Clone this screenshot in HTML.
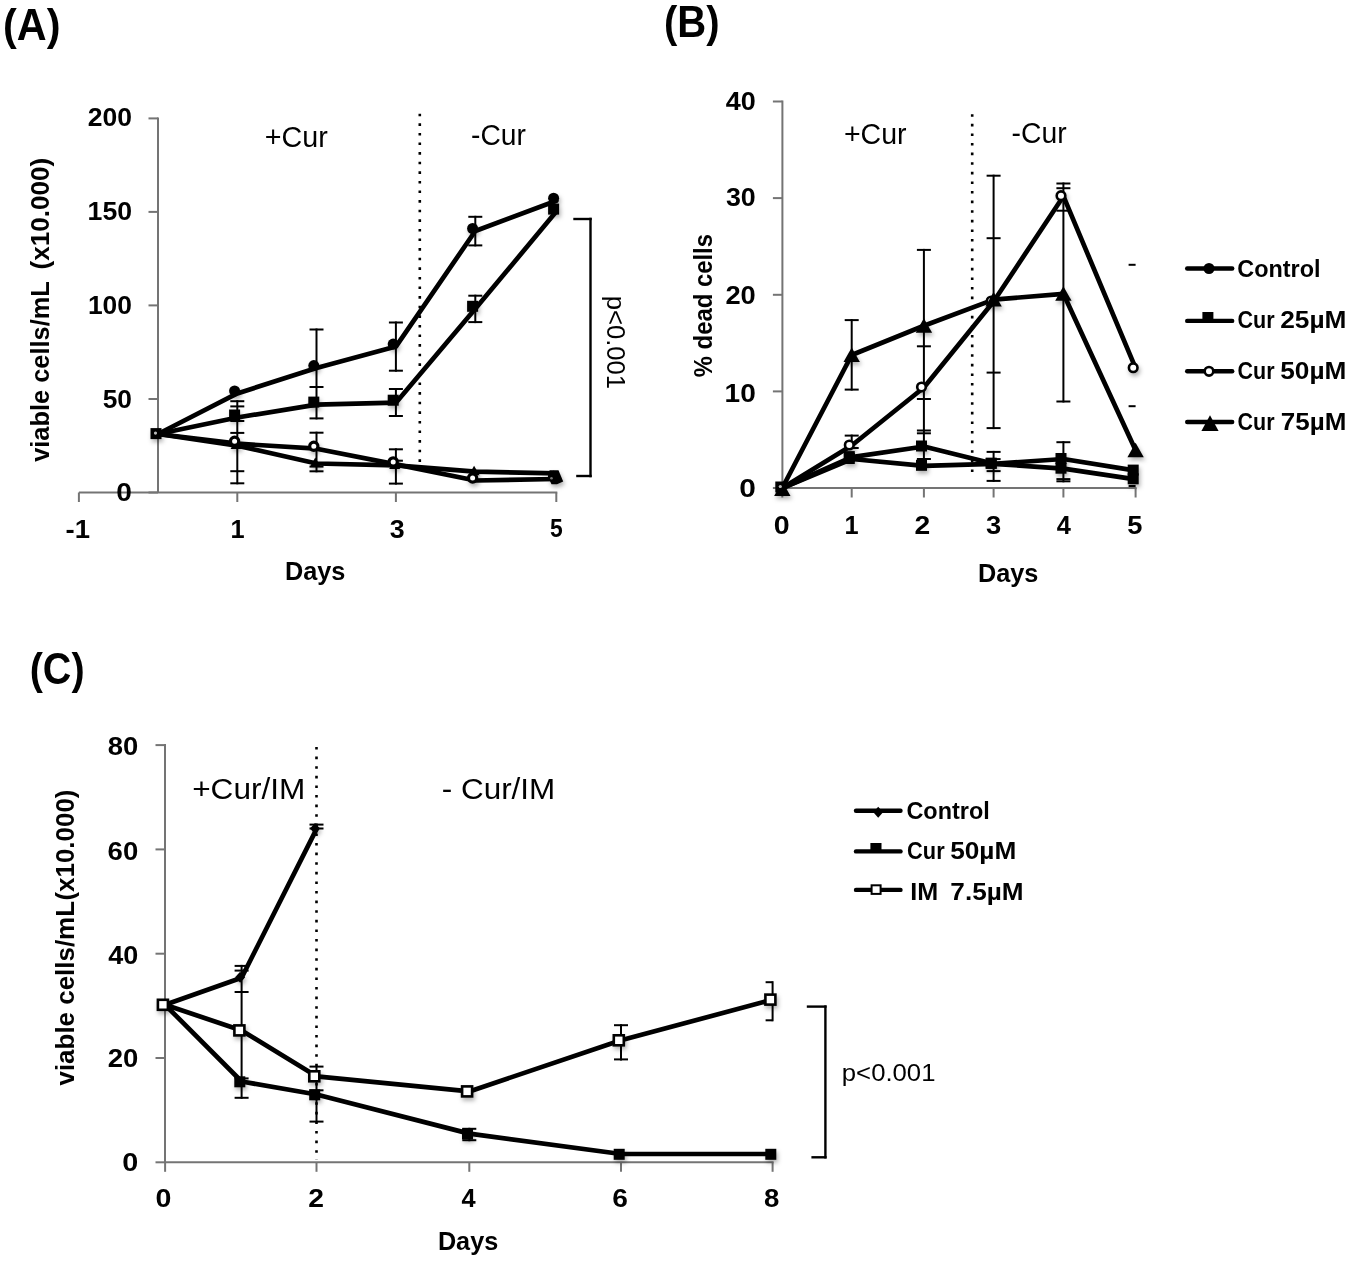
<!DOCTYPE html><html><head><meta charset="utf-8"><style>html,body{margin:0;padding:0;background:#fff;overflow:hidden}svg{display:block}text{font-family:"Liberation Sans",sans-serif;fill:#000}#texts{opacity:0.999}text{white-space:pre}</style></head><body>
<svg width="1350" height="1261" viewBox="0 0 1350 1261">
<defs><filter id="sh" x="-50%" y="-50%" width="200%" height="200%"><feDropShadow dx="1.5" dy="3" stdDeviation="2" flood-color="#000" flood-opacity="0.3"/></filter></defs>
<rect width="1350" height="1261" fill="#fff"/>
<g id="graphics">
<line x1="78.9" y1="492.5" x2="557.3" y2="492.5" stroke="#747474" stroke-width="2.0"/>
<line x1="158.0" y1="117.4" x2="158.0" y2="492.5" stroke="#747474" stroke-width="2.0"/>
<line x1="148.5" y1="492.5" x2="158.0" y2="492.5" stroke="#747474" stroke-width="2.0"/>
<line x1="148.5" y1="399.0" x2="158.0" y2="399.0" stroke="#747474" stroke-width="2.0"/>
<line x1="148.5" y1="305.4" x2="158.0" y2="305.4" stroke="#747474" stroke-width="2.0"/>
<line x1="148.5" y1="211.9" x2="158.0" y2="211.9" stroke="#747474" stroke-width="2.0"/>
<line x1="148.5" y1="118.4" x2="158.0" y2="118.4" stroke="#747474" stroke-width="2.0"/>
<line x1="78.9" y1="492.5" x2="78.9" y2="502.0" stroke="#747474" stroke-width="2.0"/>
<line x1="237.3" y1="492.5" x2="237.3" y2="502.0" stroke="#747474" stroke-width="2.0"/>
<line x1="395.9" y1="492.5" x2="395.9" y2="502.0" stroke="#747474" stroke-width="2.0"/>
<line x1="556.3" y1="492.5" x2="556.3" y2="502.0" stroke="#747474" stroke-width="2.0"/>
<line x1="419.8" y1="113.7" x2="419.8" y2="468.0" stroke="#000" stroke-width="2.6" stroke-dasharray="2.6 7"/>
<line x1="573.3" y1="219.0" x2="591.7" y2="219.0" stroke="#000" stroke-width="2.4"/>
<line x1="590.5" y1="217.8" x2="590.5" y2="477.2" stroke="#000" stroke-width="2.4"/>
<line x1="576.2" y1="476.0" x2="591.7" y2="476.0" stroke="#000" stroke-width="2.4"/>
<line x1="237.3" y1="400.2" x2="237.3" y2="484.3" stroke="#000" stroke-width="2"/>
<line x1="230.3" y1="401.2" x2="244.3" y2="401.2" stroke="#000" stroke-width="2"/>
<line x1="230.3" y1="406.4" x2="244.3" y2="406.4" stroke="#000" stroke-width="2"/>
<line x1="230.3" y1="421.0" x2="244.3" y2="421.0" stroke="#000" stroke-width="2"/>
<line x1="230.3" y1="432.9" x2="244.3" y2="432.9" stroke="#000" stroke-width="2"/>
<line x1="230.3" y1="471.2" x2="244.3" y2="471.2" stroke="#000" stroke-width="2"/>
<line x1="230.3" y1="483.3" x2="244.3" y2="483.3" stroke="#000" stroke-width="2"/>
<line x1="316.5" y1="328.5" x2="316.5" y2="419.4" stroke="#000" stroke-width="2"/>
<line x1="309.5" y1="329.5" x2="323.5" y2="329.5" stroke="#000" stroke-width="2"/>
<line x1="309.5" y1="387.0" x2="323.5" y2="387.0" stroke="#000" stroke-width="2"/>
<line x1="309.5" y1="418.4" x2="323.5" y2="418.4" stroke="#000" stroke-width="2"/>
<line x1="316.5" y1="431.7" x2="316.5" y2="472.3" stroke="#000" stroke-width="2"/>
<line x1="309.5" y1="432.7" x2="323.5" y2="432.7" stroke="#000" stroke-width="2"/>
<line x1="309.5" y1="466.6" x2="323.5" y2="466.6" stroke="#000" stroke-width="2"/>
<line x1="309.5" y1="471.3" x2="323.5" y2="471.3" stroke="#000" stroke-width="2"/>
<line x1="395.9" y1="321.5" x2="395.9" y2="371.7" stroke="#000" stroke-width="2"/>
<line x1="388.9" y1="322.5" x2="402.9" y2="322.5" stroke="#000" stroke-width="2"/>
<line x1="388.9" y1="370.7" x2="402.9" y2="370.7" stroke="#000" stroke-width="2"/>
<line x1="395.9" y1="388.0" x2="395.9" y2="417.0" stroke="#000" stroke-width="2"/>
<line x1="388.9" y1="389.0" x2="402.9" y2="389.0" stroke="#000" stroke-width="2"/>
<line x1="388.9" y1="416.0" x2="402.9" y2="416.0" stroke="#000" stroke-width="2"/>
<line x1="395.9" y1="448.3" x2="395.9" y2="484.6" stroke="#000" stroke-width="2"/>
<line x1="388.9" y1="449.3" x2="402.9" y2="449.3" stroke="#000" stroke-width="2"/>
<line x1="388.9" y1="460.7" x2="402.9" y2="460.7" stroke="#000" stroke-width="2"/>
<line x1="388.9" y1="483.6" x2="402.9" y2="483.6" stroke="#000" stroke-width="2"/>
<line x1="475.3" y1="215.8" x2="475.3" y2="246.4" stroke="#000" stroke-width="2"/>
<line x1="468.3" y1="216.8" x2="482.3" y2="216.8" stroke="#000" stroke-width="2"/>
<line x1="468.3" y1="245.4" x2="482.3" y2="245.4" stroke="#000" stroke-width="2"/>
<line x1="475.3" y1="294.7" x2="475.3" y2="323.1" stroke="#000" stroke-width="2"/>
<line x1="468.3" y1="295.7" x2="482.3" y2="295.7" stroke="#000" stroke-width="2"/>
<line x1="468.3" y1="322.1" x2="482.3" y2="322.1" stroke="#000" stroke-width="2"/>
<polyline points="158.0,434.0 237.3,445.6 316.5,463.5 395.9,465.4 475.3,471.7 556.3,473.4" fill="none" stroke="#000" stroke-width="4.7" stroke-linejoin="round" stroke-linecap="round"/>
<polyline points="158.0,434.0 237.3,443.7 316.5,448.7 395.9,464.4 475.3,480.5 556.3,479.0" fill="none" stroke="#000" stroke-width="4.7" stroke-linejoin="round" stroke-linecap="round"/>
<polyline points="158.0,434.0 237.3,417.5 316.5,404.6 395.9,402.7 475.3,308.8 556.3,211.6" fill="none" stroke="#000" stroke-width="4.7" stroke-linejoin="round" stroke-linecap="round"/>
<polyline points="158.0,434.0 237.3,393.4 316.5,368.1 395.9,346.6 475.3,231.0 556.3,200.7" fill="none" stroke="#000" stroke-width="4.7" stroke-linejoin="round" stroke-linecap="round"/>
<g filter="url(#sh)">
<path d="M236.1,439.6 L241.6,449.1 L230.6,449.1Z" fill="#000"/>
<path d="M315.3,457.5 L320.8,467.0 L309.8,467.0Z" fill="#000"/>
<path d="M394.7,459.4 L400.2,468.9 L389.2,468.9Z" fill="#000"/>
<path d="M474.1,465.7 L479.6,475.2 L468.6,475.2Z" fill="#000"/>
<circle cx="234.6" cy="441.2" r="4.1" fill="#fff" stroke="#000" stroke-width="3.2"/>
<circle cx="313.8" cy="446.2" r="4.1" fill="#fff" stroke="#000" stroke-width="3.2"/>
<circle cx="393.2" cy="461.9" r="4.1" fill="#fff" stroke="#000" stroke-width="3.2"/>
<circle cx="472.6" cy="478.0" r="4.1" fill="#fff" stroke="#000" stroke-width="3.2"/>
<circle cx="553.6" cy="476.5" r="4.1" fill="#fff" stroke="#000" stroke-width="3.2"/>
<rect x="229.1" y="409.5" width="11" height="11" fill="#000"/>
<rect x="308.3" y="396.6" width="11" height="11" fill="#000"/>
<rect x="387.7" y="394.7" width="11" height="11" fill="#000"/>
<rect x="467.1" y="300.8" width="11" height="11" fill="#000"/>
<rect x="548.1" y="203.6" width="11" height="11" fill="#000"/>
<circle cx="234.6" cy="390.9" r="5.5" fill="#000"/>
<circle cx="313.8" cy="365.6" r="5.5" fill="#000"/>
<circle cx="393.2" cy="344.1" r="5.5" fill="#000"/>
<circle cx="472.6" cy="228.5" r="5.5" fill="#000"/>
<circle cx="553.6" cy="198.2" r="5.5" fill="#000"/>
<rect x="150.5" y="428.1" width="11" height="11" fill="#000"/>
<circle cx="155.5" cy="433.1" r="1.6" fill="#bbb"/>
<path d="M549.5,470.2 L558.5,470.2 L563.2,481.5 L557,484.2 L551.5,484.2 L549.5,480Z" fill="#000"/>
<circle cx="551.5" cy="478.3" r="1.3" fill="#777"/>
</g>
<line x1="782.4" y1="488.0" x2="1136.6" y2="488.0" stroke="#747474" stroke-width="2.0"/>
<line x1="782.4" y1="100.5" x2="782.4" y2="488.0" stroke="#747474" stroke-width="2.0"/>
<line x1="772.9" y1="488.0" x2="782.4" y2="488.0" stroke="#747474" stroke-width="2.0"/>
<line x1="772.9" y1="391.4" x2="782.4" y2="391.4" stroke="#747474" stroke-width="2.0"/>
<line x1="772.9" y1="294.8" x2="782.4" y2="294.8" stroke="#747474" stroke-width="2.0"/>
<line x1="772.9" y1="198.1" x2="782.4" y2="198.1" stroke="#747474" stroke-width="2.0"/>
<line x1="772.9" y1="101.5" x2="782.4" y2="101.5" stroke="#747474" stroke-width="2.0"/>
<line x1="782.3" y1="488.0" x2="782.3" y2="497.5" stroke="#747474" stroke-width="2.0"/>
<line x1="851.7" y1="488.0" x2="851.7" y2="497.5" stroke="#747474" stroke-width="2.0"/>
<line x1="923.9" y1="488.0" x2="923.9" y2="497.5" stroke="#747474" stroke-width="2.0"/>
<line x1="993.6" y1="488.0" x2="993.6" y2="497.5" stroke="#747474" stroke-width="2.0"/>
<line x1="1063.4" y1="488.0" x2="1063.4" y2="497.5" stroke="#747474" stroke-width="2.0"/>
<line x1="1135.6" y1="488.0" x2="1135.6" y2="497.5" stroke="#747474" stroke-width="2.0"/>
<line x1="972.2" y1="114.2" x2="972.2" y2="474.0" stroke="#000" stroke-width="2.6" stroke-dasharray="2.6 7"/>
<line x1="851.7" y1="319.1" x2="851.7" y2="390.6" stroke="#000" stroke-width="2"/>
<line x1="844.7" y1="320.1" x2="858.7" y2="320.1" stroke="#000" stroke-width="2"/>
<line x1="844.7" y1="389.6" x2="858.7" y2="389.6" stroke="#000" stroke-width="2"/>
<line x1="851.7" y1="434.6" x2="851.7" y2="449.0" stroke="#000" stroke-width="2"/>
<line x1="844.7" y1="435.6" x2="858.7" y2="435.6" stroke="#000" stroke-width="2"/>
<line x1="844.7" y1="448.0" x2="858.7" y2="448.0" stroke="#000" stroke-width="2"/>
<line x1="923.9" y1="248.9" x2="923.9" y2="460.0" stroke="#000" stroke-width="2"/>
<line x1="916.9" y1="249.9" x2="930.9" y2="249.9" stroke="#000" stroke-width="2"/>
<line x1="916.9" y1="346.3" x2="930.9" y2="346.3" stroke="#000" stroke-width="2"/>
<line x1="916.9" y1="399.0" x2="930.9" y2="399.0" stroke="#000" stroke-width="2"/>
<line x1="916.9" y1="430.5" x2="930.9" y2="430.5" stroke="#000" stroke-width="2"/>
<line x1="916.9" y1="433.3" x2="930.9" y2="433.3" stroke="#000" stroke-width="2"/>
<line x1="916.9" y1="459.0" x2="930.9" y2="459.0" stroke="#000" stroke-width="2"/>
<line x1="993.6" y1="174.7" x2="993.6" y2="429.1" stroke="#000" stroke-width="2"/>
<line x1="986.6" y1="175.7" x2="1000.6" y2="175.7" stroke="#000" stroke-width="2"/>
<line x1="986.6" y1="238.2" x2="1000.6" y2="238.2" stroke="#000" stroke-width="2"/>
<line x1="986.6" y1="372.6" x2="1000.6" y2="372.6" stroke="#000" stroke-width="2"/>
<line x1="986.6" y1="428.1" x2="1000.6" y2="428.1" stroke="#000" stroke-width="2"/>
<line x1="993.6" y1="450.9" x2="993.6" y2="481.9" stroke="#000" stroke-width="2"/>
<line x1="986.6" y1="451.9" x2="1000.6" y2="451.9" stroke="#000" stroke-width="2"/>
<line x1="986.6" y1="459.1" x2="1000.6" y2="459.1" stroke="#000" stroke-width="2"/>
<line x1="986.6" y1="471.1" x2="1000.6" y2="471.1" stroke="#000" stroke-width="2"/>
<line x1="986.6" y1="480.9" x2="1000.6" y2="480.9" stroke="#000" stroke-width="2"/>
<line x1="1063.4" y1="182.5" x2="1063.4" y2="402.5" stroke="#000" stroke-width="2"/>
<line x1="1056.4" y1="183.5" x2="1070.4" y2="183.5" stroke="#000" stroke-width="2"/>
<line x1="1056.4" y1="188.2" x2="1070.4" y2="188.2" stroke="#000" stroke-width="2"/>
<line x1="1056.4" y1="210.7" x2="1070.4" y2="210.7" stroke="#000" stroke-width="2"/>
<line x1="1056.4" y1="401.5" x2="1070.4" y2="401.5" stroke="#000" stroke-width="2"/>
<line x1="1063.4" y1="441.2" x2="1063.4" y2="482.3" stroke="#000" stroke-width="2"/>
<line x1="1056.4" y1="442.2" x2="1070.4" y2="442.2" stroke="#000" stroke-width="2"/>
<line x1="1056.4" y1="479.1" x2="1070.4" y2="479.1" stroke="#000" stroke-width="2"/>
<line x1="1056.4" y1="481.3" x2="1070.4" y2="481.3" stroke="#000" stroke-width="2"/>
<line x1="1128.6" y1="264.8" x2="1135.6" y2="264.8" stroke="#000" stroke-width="2"/>
<line x1="1128.6" y1="406.2" x2="1135.6" y2="406.2" stroke="#000" stroke-width="2"/>
<line x1="1128.6" y1="486.0" x2="1135.6" y2="486.0" stroke="#000" stroke-width="2"/>
<polyline points="782.3,488.0 851.7,459.0 923.9,465.8 993.6,463.8 1063.4,468.7 1135.6,479.3" fill="none" stroke="#000" stroke-width="4.7" stroke-linejoin="round" stroke-linecap="round"/>
<polyline points="782.3,488.0 851.7,457.1 923.9,446.5 993.6,463.8 1063.4,459.0 1135.6,470.6" fill="none" stroke="#000" stroke-width="4.7" stroke-linejoin="round" stroke-linecap="round"/>
<polyline points="782.3,488.0 851.7,445.5 923.9,387.5 993.6,301.5 1063.4,196.2 1135.6,368.2" fill="none" stroke="#000" stroke-width="4.7" stroke-linejoin="round" stroke-linecap="round"/>
<polyline points="782.3,488.0 851.7,355.0 923.9,325.7 993.6,299.6 1063.4,293.8 1135.6,450.3" fill="none" stroke="#000" stroke-width="4.7" stroke-linejoin="round" stroke-linecap="round"/>
<g filter="url(#sh)">
<rect x="843.8" y="453.0" width="11" height="11" fill="#000"/>
<rect x="916.0" y="459.8" width="11" height="11" fill="#000"/>
<rect x="985.7" y="457.8" width="11" height="11" fill="#000"/>
<rect x="1055.5" y="462.7" width="11" height="11" fill="#000"/>
<rect x="1127.7" y="473.3" width="11" height="11" fill="#000"/>
<rect x="843.8" y="451.1" width="11" height="11" fill="#000"/>
<rect x="916.0" y="440.5" width="11" height="11" fill="#000"/>
<rect x="985.7" y="457.8" width="11" height="11" fill="#000"/>
<rect x="1055.5" y="453.0" width="11" height="11" fill="#000"/>
<rect x="1127.7" y="464.6" width="11" height="11" fill="#000"/>
<circle cx="849.3" cy="445.0" r="4.3" fill="#fff" stroke="#000" stroke-width="2.6"/>
<circle cx="921.5" cy="387.0" r="4.3" fill="#fff" stroke="#000" stroke-width="2.6"/>
<circle cx="991.2" cy="301.0" r="4.3" fill="#fff" stroke="#000" stroke-width="2.6"/>
<circle cx="1061.0" cy="195.7" r="4.3" fill="#fff" stroke="#000" stroke-width="2.6"/>
<circle cx="1133.2" cy="367.7" r="4.3" fill="#fff" stroke="#000" stroke-width="2.6"/>
<path d="M851.7,347.5 L859.9,362.0 L843.5,362.0Z" fill="#000"/>
<path d="M923.9,318.2 L932.1,332.7 L915.7,332.7Z" fill="#000"/>
<path d="M993.6,292.1 L1001.8,306.6 L985.4,306.6Z" fill="#000"/>
<path d="M1063.4,286.3 L1071.6,300.8 L1055.2,300.8Z" fill="#000"/>
<path d="M1135.6,442.8 L1143.8,457.3 L1127.4,457.3Z" fill="#000"/>
<path d="M782.3,481.5 L790.5,496.0 L774.1,496.0Z" fill="#000"/>
<rect x="775.3" y="481.5" width="11" height="11" fill="#000"/>
<circle cx="780.3" cy="486.5" r="1.6" fill="#bbb"/>
</g>
<line x1="1187.2" y1="268.5" x2="1232.2" y2="268.5" stroke="#000" stroke-width="4.4" stroke-linecap="round"/>
<circle cx="1209.0" cy="268.5" r="5.5" fill="#000"/>
<line x1="1187.2" y1="320.9" x2="1232.2" y2="320.9" stroke="#000" stroke-width="4.4" stroke-linecap="round"/>
<rect x="1202.4" y="312" width="11" height="9" fill="#000"/>
<line x1="1187.2" y1="371.3" x2="1232.2" y2="371.3" stroke="#000" stroke-width="4.4" stroke-linecap="round"/>
<circle cx="1209.0" cy="371.3" r="4.3" fill="#fff" stroke="#000" stroke-width="2.6"/>
<line x1="1187.2" y1="422.0" x2="1232.2" y2="422.0" stroke="#000" stroke-width="4.4" stroke-linecap="round"/>
<path d="M1210,415.2 L1218.6,431 L1201.4,431Z" fill="#000"/>
<line x1="165.0" y1="1162.3" x2="773.6" y2="1162.3" stroke="#747474" stroke-width="2.0"/>
<line x1="165.0" y1="744.1" x2="165.0" y2="1162.3" stroke="#747474" stroke-width="2.0"/>
<line x1="155.5" y1="1162.3" x2="165.0" y2="1162.3" stroke="#747474" stroke-width="2.0"/>
<line x1="155.5" y1="1058.0" x2="165.0" y2="1058.0" stroke="#747474" stroke-width="2.0"/>
<line x1="155.5" y1="953.7" x2="165.0" y2="953.7" stroke="#747474" stroke-width="2.0"/>
<line x1="155.5" y1="849.4" x2="165.0" y2="849.4" stroke="#747474" stroke-width="2.0"/>
<line x1="155.5" y1="745.1" x2="165.0" y2="745.1" stroke="#747474" stroke-width="2.0"/>
<line x1="165.1" y1="1162.3" x2="165.1" y2="1171.8" stroke="#747474" stroke-width="2.0"/>
<line x1="316.5" y1="1162.3" x2="316.5" y2="1171.8" stroke="#747474" stroke-width="2.0"/>
<line x1="469.3" y1="1162.3" x2="469.3" y2="1171.8" stroke="#747474" stroke-width="2.0"/>
<line x1="621.0" y1="1162.3" x2="621.0" y2="1171.8" stroke="#747474" stroke-width="2.0"/>
<line x1="772.6" y1="1162.3" x2="772.6" y2="1171.8" stroke="#747474" stroke-width="2.0"/>
<line x1="316.5" y1="747.0" x2="316.5" y2="1160.0" stroke="#000" stroke-width="2.6" stroke-dasharray="2.6 7"/>
<line x1="806.8" y1="1006.6" x2="826.6" y2="1006.6" stroke="#000" stroke-width="2.4"/>
<line x1="825.4" y1="1005.4" x2="825.4" y2="1158.5" stroke="#000" stroke-width="2.4"/>
<line x1="811.4" y1="1157.3" x2="826.6" y2="1157.3" stroke="#000" stroke-width="2.4"/>
<line x1="241.6" y1="964.9" x2="241.6" y2="1098.8" stroke="#000" stroke-width="2"/>
<line x1="234.6" y1="965.9" x2="248.6" y2="965.9" stroke="#000" stroke-width="2"/>
<line x1="234.6" y1="970.6" x2="248.6" y2="970.6" stroke="#000" stroke-width="2"/>
<line x1="234.6" y1="992.0" x2="248.6" y2="992.0" stroke="#000" stroke-width="2"/>
<line x1="234.6" y1="1078.4" x2="248.6" y2="1078.4" stroke="#000" stroke-width="2"/>
<line x1="234.6" y1="1097.8" x2="248.6" y2="1097.8" stroke="#000" stroke-width="2"/>
<line x1="316.5" y1="823.6" x2="316.5" y2="829.5" stroke="#000" stroke-width="2"/>
<line x1="309.5" y1="824.6" x2="323.5" y2="824.6" stroke="#000" stroke-width="2"/>
<line x1="309.5" y1="828.5" x2="323.5" y2="828.5" stroke="#000" stroke-width="2"/>
<line x1="316.5" y1="1065.6" x2="316.5" y2="1122.6" stroke="#000" stroke-width="2"/>
<line x1="309.5" y1="1066.6" x2="323.5" y2="1066.6" stroke="#000" stroke-width="2"/>
<line x1="309.5" y1="1090.3" x2="323.5" y2="1090.3" stroke="#000" stroke-width="2"/>
<line x1="309.5" y1="1121.6" x2="323.5" y2="1121.6" stroke="#000" stroke-width="2"/>
<line x1="469.3" y1="1127.8" x2="469.3" y2="1141.2" stroke="#000" stroke-width="2"/>
<line x1="462.3" y1="1128.8" x2="476.3" y2="1128.8" stroke="#000" stroke-width="2"/>
<line x1="462.3" y1="1140.2" x2="476.3" y2="1140.2" stroke="#000" stroke-width="2"/>
<line x1="621.0" y1="1024.2" x2="621.0" y2="1060.4" stroke="#000" stroke-width="2"/>
<line x1="614.0" y1="1025.2" x2="628.0" y2="1025.2" stroke="#000" stroke-width="2"/>
<line x1="614.0" y1="1059.4" x2="628.0" y2="1059.4" stroke="#000" stroke-width="2"/>
<line x1="772.6" y1="981.2" x2="772.6" y2="1021.3" stroke="#000" stroke-width="2"/>
<line x1="765.6" y1="982.2" x2="772.6" y2="982.2" stroke="#000" stroke-width="2"/>
<line x1="765.6" y1="1020.3" x2="772.6" y2="1020.3" stroke="#000" stroke-width="2"/>
<polyline points="165.1,1004.8 241.6,977.7 316.5,829.1" fill="none" stroke="#000" stroke-width="4.7" stroke-linejoin="round" stroke-linecap="round"/>
<polyline points="165.1,1004.8 241.6,1081.5 316.5,1094.5 469.3,1133.6 621.0,1154.0 772.6,1154.0" fill="none" stroke="#000" stroke-width="4.7" stroke-linejoin="round" stroke-linecap="round"/>
<polyline points="165.1,1004.8 241.6,1030.4 316.5,1076.3 469.3,1091.4 621.0,1040.3 772.6,999.6" fill="none" stroke="#000" stroke-width="4.7" stroke-linejoin="round" stroke-linecap="round"/>
<g filter="url(#sh)">
<path d="M240.1,971.7 L245.1,977.2 L240.1,982.7 L235.1,977.2Z" fill="#000"/>
<path d="M315.0,823.1 L320.0,828.6 L315.0,834.1 L310.0,828.6Z" fill="#000"/>
<rect x="234.3" y="1076.3" width="11" height="11" fill="#000"/>
<rect x="309.2" y="1089.3" width="11" height="11" fill="#000"/>
<rect x="462.0" y="1128.4" width="11" height="11" fill="#000"/>
<rect x="613.7" y="1148.8" width="11" height="11" fill="#000"/>
<rect x="765.3" y="1148.8" width="11" height="11" fill="#000"/>
<rect x="157.9" y="999.8" width="10" height="10" fill="#fff" stroke="#000" stroke-width="2.6"/>
<rect x="234.4" y="1025.4" width="10" height="10" fill="#fff" stroke="#000" stroke-width="2.6"/>
<rect x="309.3" y="1071.3" width="10" height="10" fill="#fff" stroke="#000" stroke-width="2.6"/>
<rect x="462.1" y="1086.4" width="10" height="10" fill="#fff" stroke="#000" stroke-width="2.6"/>
<rect x="613.8" y="1035.3" width="10" height="10" fill="#fff" stroke="#000" stroke-width="2.6"/>
<rect x="765.4" y="994.6" width="10" height="10" fill="#fff" stroke="#000" stroke-width="2.6"/>
</g>
<line x1="856.0" y1="810.8" x2="900.5" y2="810.8" stroke="#000" stroke-width="4.4" stroke-linecap="round"/>
<path d="M878.2,806.7 L883,812.2 L878.2,817.8 L873.3,812.2Z" fill="#000"/>
<line x1="856.0" y1="851.4" x2="900.5" y2="851.4" stroke="#000" stroke-width="4.4" stroke-linecap="round"/>
<rect x="870.4" y="843" width="11.1" height="8.5" fill="#000"/>
<line x1="856.0" y1="889.9" x2="900.5" y2="889.9" stroke="#000" stroke-width="4.4" stroke-linecap="round"/>
<rect x="871.6" y="885.3" width="9" height="8.6" fill="#fff" stroke="#000" stroke-width="2"/>
</g>
<g id="texts">
<text id="tA" x="2.98" y="40.00" font-size="44" font-weight="bold" textLength="57.48" lengthAdjust="spacingAndGlyphs">(A)</text>
<text id="tB" x="664.01" y="37.30" font-size="44" font-weight="bold" textLength="55.59" lengthAdjust="spacingAndGlyphs">(B)</text>
<text id="tC" x="29.73" y="683.90" font-size="44" font-weight="bold" textLength="54.83" lengthAdjust="spacingAndGlyphs">(C)</text>
<text id="ay200" x="87.88" y="126.10" font-size="25" font-weight="bold" textLength="44.21" lengthAdjust="spacingAndGlyphs">200</text>
<text id="ay150" x="87.62" y="219.90" font-size="25" font-weight="bold" textLength="44.47" lengthAdjust="spacingAndGlyphs">150</text>
<text id="ay100" x="87.94" y="314.30" font-size="25" font-weight="bold" textLength="44.05" lengthAdjust="spacingAndGlyphs">100</text>
<text id="ay50" x="102.69" y="408.10" font-size="25" font-weight="bold" textLength="29.29" lengthAdjust="spacingAndGlyphs">50</text>
<text id="ay0" x="116.39" y="500.50" font-size="25" font-weight="bold" textLength="15.67" lengthAdjust="spacingAndGlyphs">0</text>
<text id="axm1" x="65.63" y="537.50" font-size="25" font-weight="bold" textLength="24.44" lengthAdjust="spacingAndGlyphs">-1</text>
<text id="ax1" x="230.60" y="537.50" font-size="25" font-weight="bold" textLength="14.10" lengthAdjust="spacingAndGlyphs">1</text>
<text id="ax3" x="389.79" y="537.50" font-size="25" font-weight="bold" textLength="14.88" lengthAdjust="spacingAndGlyphs">3</text>
<text id="ax5" x="550.10" y="537.30" font-size="25" font-weight="bold" textLength="12.74" lengthAdjust="spacingAndGlyphs">5</text>
<text id="aDays" x="285.01" y="580.00" font-size="25.9" font-weight="bold" textLength="60.43" lengthAdjust="spacingAndGlyphs">Days</text>
<text id="aYt" x="48.90" y="461.80" font-size="25.6" font-weight="bold" textLength="180.58" lengthAdjust="spacingAndGlyphs" transform="rotate(-90 48.90 461.80)">viable cells/mL</text>
<text id="aYt2" x="48.90" y="269.40" font-size="25.6" font-weight="bold" textLength="111.49" lengthAdjust="spacingAndGlyphs" transform="rotate(-90 48.90 269.40)">(x10.000)</text>
<text id="aPc" x="264.80" y="147.10" font-size="30" textLength="62.98" lengthAdjust="spacingAndGlyphs">+Cur</text>
<text id="aMc" x="471.05" y="145.40" font-size="30" textLength="54.82" lengthAdjust="spacingAndGlyphs">-Cur</text>
<text id="aP" x="606.60" y="295.75" font-size="25" textLength="93.20" lengthAdjust="spacingAndGlyphs" transform="rotate(90 606.60 295.75)">p&lt;0.001</text>
<text id="by40" x="725.79" y="109.80" font-size="25" font-weight="bold" textLength="30.02" lengthAdjust="spacingAndGlyphs">40</text>
<text id="by30" x="725.98" y="206.40" font-size="25" font-weight="bold" textLength="29.81" lengthAdjust="spacingAndGlyphs">30</text>
<text id="by20" x="725.45" y="303.60" font-size="25" font-weight="bold" textLength="30.37" lengthAdjust="spacingAndGlyphs">20</text>
<text id="by10" x="724.63" y="401.60" font-size="25" font-weight="bold" textLength="31.22" lengthAdjust="spacingAndGlyphs">10</text>
<text id="by0" x="739.32" y="496.90" font-size="25" font-weight="bold" textLength="16.61" lengthAdjust="spacingAndGlyphs">0</text>
<text id="bx0" x="773.77" y="534.10" font-size="25" font-weight="bold" textLength="15.90" lengthAdjust="spacingAndGlyphs">0</text>
<text id="bx1" x="844.40" y="534.10" font-size="25" font-weight="bold" textLength="14.10" lengthAdjust="spacingAndGlyphs">1</text>
<text id="bx2" x="914.62" y="534.10" font-size="25" font-weight="bold" textLength="15.71" lengthAdjust="spacingAndGlyphs">2</text>
<text id="bx3" x="985.97" y="534.10" font-size="25" font-weight="bold" textLength="15.22" lengthAdjust="spacingAndGlyphs">3</text>
<text id="bx4" x="1056.72" y="534.10" font-size="25" font-weight="bold" textLength="14.12" lengthAdjust="spacingAndGlyphs">4</text>
<text id="bx5" x="1127.36" y="534.10" font-size="25" font-weight="bold" textLength="15.20" lengthAdjust="spacingAndGlyphs">5</text>
<text id="bDays" x="977.91" y="581.50" font-size="25.9" font-weight="bold" textLength="60.43" lengthAdjust="spacingAndGlyphs">Days</text>
<text id="bYt" x="712.50" y="377.29" font-size="25.6" font-weight="bold" textLength="143.27" lengthAdjust="spacingAndGlyphs" transform="rotate(-90 712.50 377.29)">% dead cells</text>
<text id="bPc" x="843.91" y="143.60" font-size="30" textLength="62.67" lengthAdjust="spacingAndGlyphs">+Cur</text>
<text id="bMc" x="1011.54" y="143.30" font-size="30" textLength="55.03" lengthAdjust="spacingAndGlyphs">-Cur</text>
<text id="bL1" x="1237.24" y="276.70" font-size="23.5" font-weight="bold" textLength="83.32" lengthAdjust="spacingAndGlyphs">Control</text>
<text id="bL2" x="1237.52" y="327.60" font-size="23.5" font-weight="bold" textLength="37.11" lengthAdjust="spacingAndGlyphs">Cur</text>
<text id="bL2b" x="1280.19" y="327.60" font-size="23.5" font-weight="bold" textLength="66.27" lengthAdjust="spacingAndGlyphs">25µM</text>
<text id="bL3" x="1237.52" y="378.60" font-size="23.5" font-weight="bold" textLength="37.01" lengthAdjust="spacingAndGlyphs">Cur</text>
<text id="bL3b" x="1280.29" y="378.60" font-size="23.5" font-weight="bold" textLength="66.16" lengthAdjust="spacingAndGlyphs">50µM</text>
<text id="bL4" x="1237.52" y="430.00" font-size="23.5" font-weight="bold" textLength="37.01" lengthAdjust="spacingAndGlyphs">Cur</text>
<text id="bL4b" x="1280.88" y="430.00" font-size="23.5" font-weight="bold" textLength="65.56" lengthAdjust="spacingAndGlyphs">75µM</text>
<text id="cy80" x="107.73" y="754.60" font-size="25" font-weight="bold" textLength="30.49" lengthAdjust="spacingAndGlyphs">80</text>
<text id="cy60" x="107.59" y="860.00" font-size="25" font-weight="bold" textLength="30.64" lengthAdjust="spacingAndGlyphs">60</text>
<text id="cy40" x="108.19" y="963.60" font-size="25" font-weight="bold" textLength="30.02" lengthAdjust="spacingAndGlyphs">40</text>
<text id="cy20" x="107.65" y="1067.20" font-size="25" font-weight="bold" textLength="30.58" lengthAdjust="spacingAndGlyphs">20</text>
<text id="cy0" x="122.26" y="1170.60" font-size="25" font-weight="bold" textLength="16.02" lengthAdjust="spacingAndGlyphs">0</text>
<text id="cx0" x="155.57" y="1206.80" font-size="25" font-weight="bold" textLength="15.90" lengthAdjust="spacingAndGlyphs">0</text>
<text id="cx2" x="308.22" y="1206.80" font-size="25" font-weight="bold" textLength="15.71" lengthAdjust="spacingAndGlyphs">2</text>
<text id="cx4" x="461.42" y="1206.80" font-size="25" font-weight="bold" textLength="14.12" lengthAdjust="spacingAndGlyphs">4</text>
<text id="cx6" x="612.37" y="1206.80" font-size="25" font-weight="bold" textLength="15.65" lengthAdjust="spacingAndGlyphs">6</text>
<text id="cx8" x="764.13" y="1206.80" font-size="25" font-weight="bold" textLength="15.32" lengthAdjust="spacingAndGlyphs">8</text>
<text id="cDays" x="437.91" y="1250.00" font-size="25.9" font-weight="bold" textLength="60.32" lengthAdjust="spacingAndGlyphs">Days</text>
<text id="cYt" x="73.70" y="1085.50" font-size="25.6" font-weight="bold" textLength="184.50" lengthAdjust="spacingAndGlyphs" transform="rotate(-90 73.70 1085.50)">viable cells/mL</text>
<text id="cYt2" x="73.70" y="900.59" font-size="25.6" font-weight="bold" textLength="111.08" lengthAdjust="spacingAndGlyphs" transform="rotate(-90 73.70 900.59)">(x10.000)</text>
<text id="cPc" x="192.16" y="798.60" font-size="29" textLength="113.13" lengthAdjust="spacingAndGlyphs">+Cur/IM</text>
<text id="cMc" x="441.80" y="798.60" font-size="29" textLength="113.47" lengthAdjust="spacingAndGlyphs">- Cur/IM</text>
<text id="cP" x="841.84" y="1080.60" font-size="24.2" textLength="93.61" lengthAdjust="spacingAndGlyphs">p&lt;0.001</text>
<text id="cL1" x="906.44" y="819.30" font-size="23.5" font-weight="bold" textLength="83.32" lengthAdjust="spacingAndGlyphs">Control</text>
<text id="cL2" x="907.11" y="858.60" font-size="23.5" font-weight="bold" textLength="37.52" lengthAdjust="spacingAndGlyphs">Cur</text>
<text id="cL2b" x="950.19" y="858.60" font-size="23.5" font-weight="bold" textLength="66.16" lengthAdjust="spacingAndGlyphs">50µM</text>
<text id="cL3" x="910.32" y="899.50" font-size="23.5" font-weight="bold" textLength="27.97" lengthAdjust="spacingAndGlyphs">IM</text>
<text id="cL3b" x="950.38" y="899.50" font-size="23.5" font-weight="bold" textLength="73.17" lengthAdjust="spacingAndGlyphs">7.5µM</text>
</g>
</svg></body></html>
